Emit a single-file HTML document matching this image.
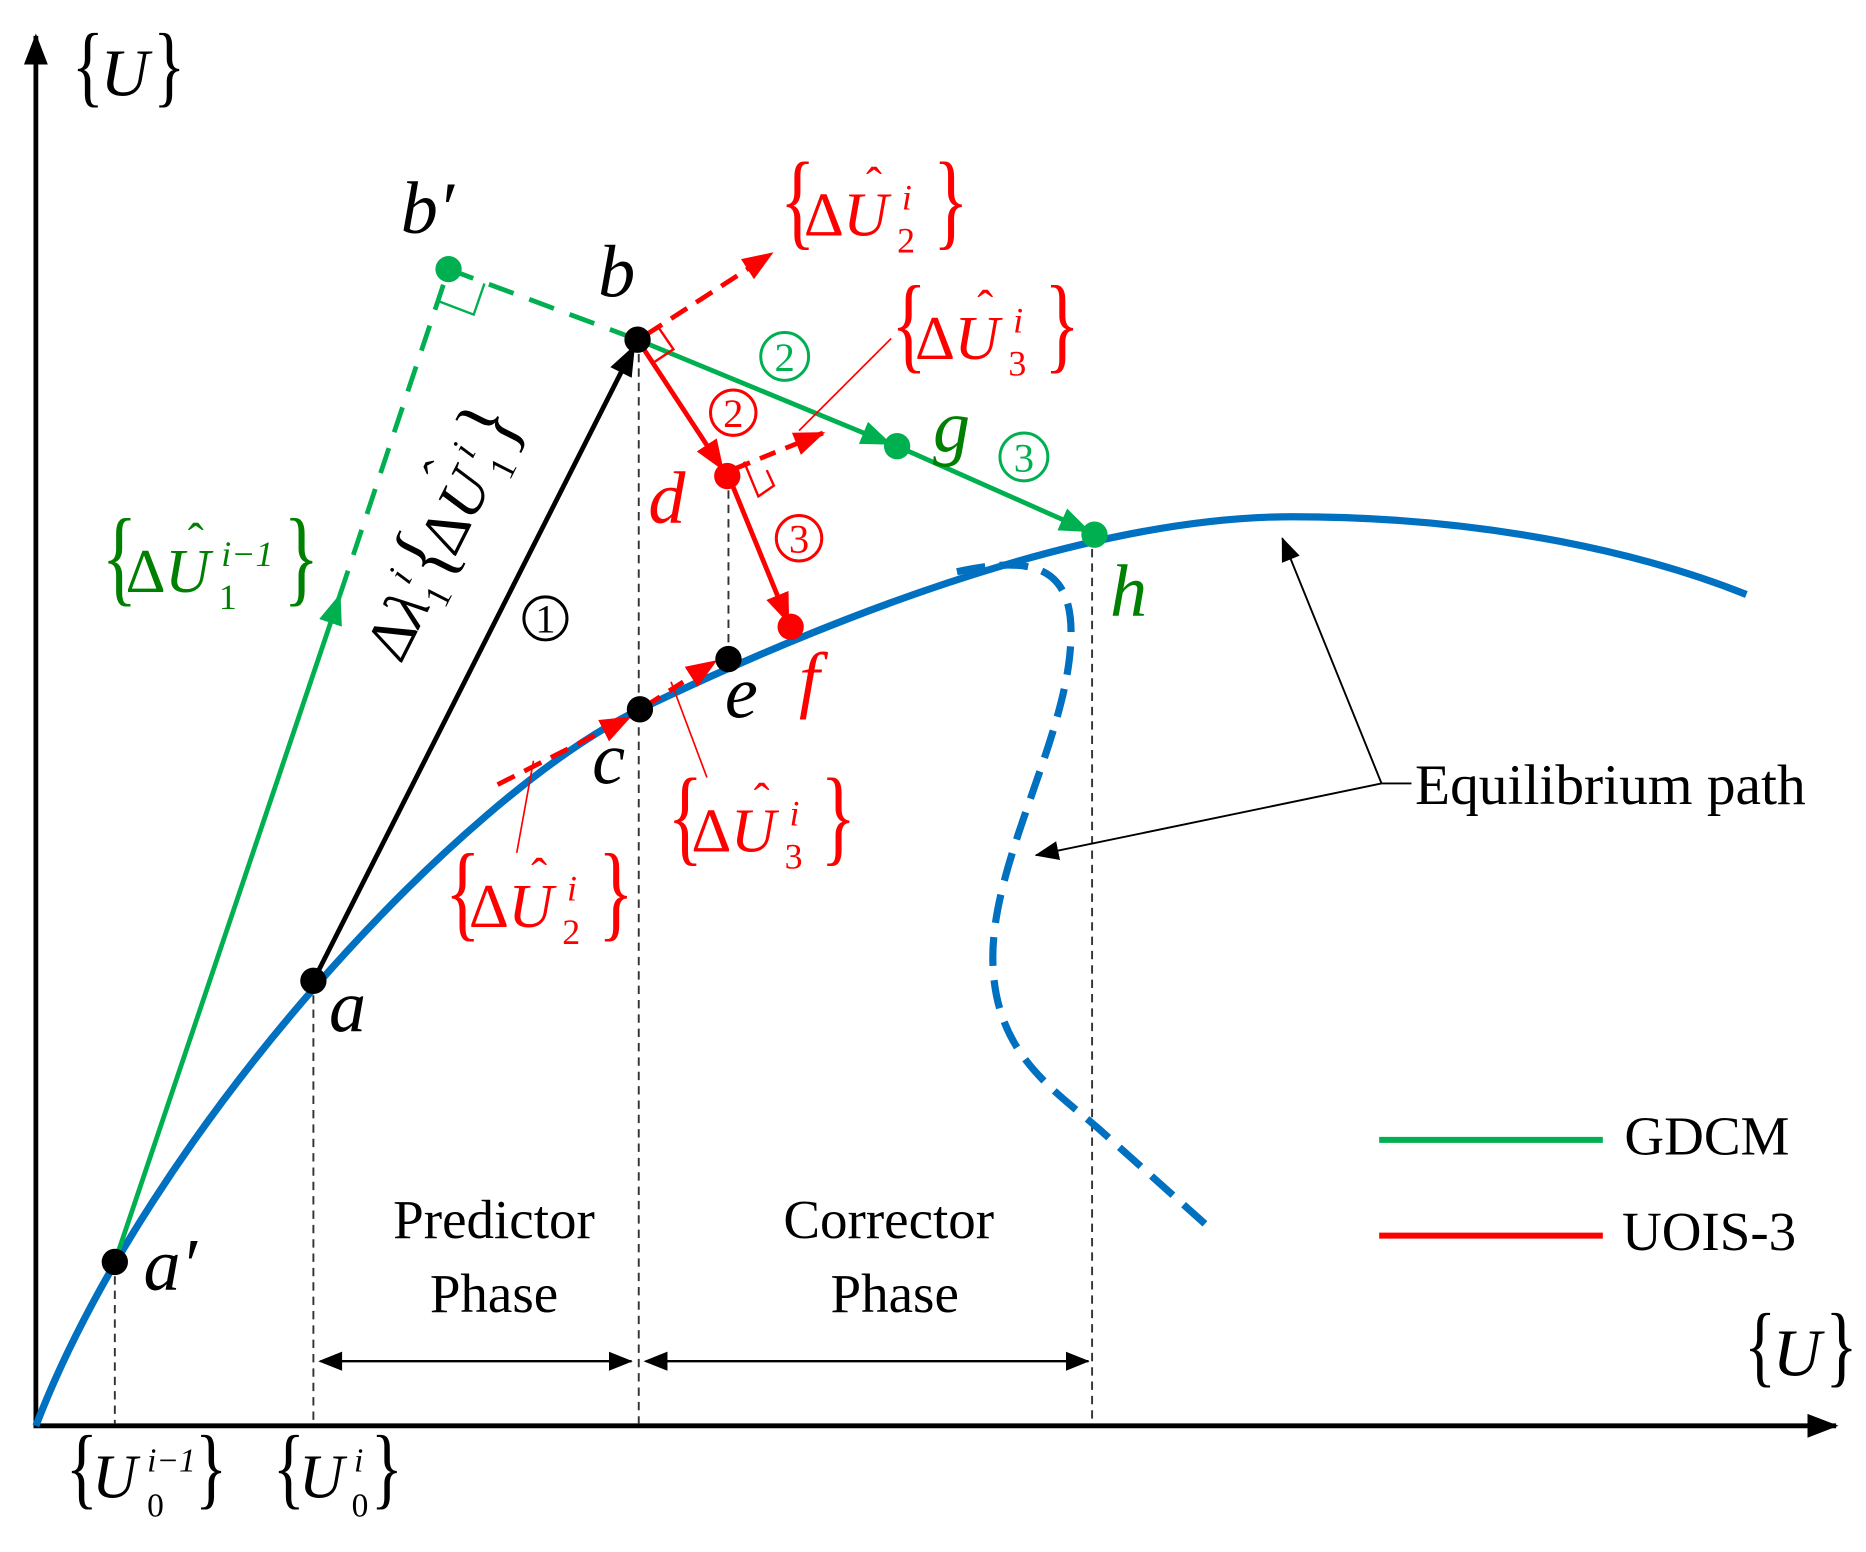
<!DOCTYPE html>
<html><head><meta charset="utf-8"><style>
html,body{margin:0;padding:0;background:#fff;}
svg{display:block;}
svg text{font-family:"Liberation Serif","Times New Roman",serif;}
.it{font-style:italic;}
</style></head><body>
<svg width="1866" height="1552" viewBox="0 0 1560 1297.5" preserveAspectRatio="none" xmlns="http://www.w3.org/2000/svg" font-family="'Liberation Serif', serif">
<defs>
<marker id="ak" markerUnits="userSpaceOnUse" markerWidth="26" markerHeight="20" refX="24" refY="10" orient="auto"><path d="M0,0 L26,10 L0,20 Z" fill="#000"/></marker>
<marker id="ak2" markerUnits="userSpaceOnUse" markerWidth="20" markerHeight="16" refX="19" refY="8" orient="auto"><path d="M0,0 L20,8 L0,16 Z" fill="#000"/></marker>
<marker id="ag" markerUnits="userSpaceOnUse" markerWidth="26" markerHeight="20" refX="24" refY="10" orient="auto"><path d="M0,0 L26,10 L0,20 Z" fill="#00b050"/></marker>
<marker id="ar" markerUnits="userSpaceOnUse" markerWidth="26" markerHeight="20" refX="24" refY="10" orient="auto"><path d="M0,0 L26,10 L0,20 Z" fill="#ff0000"/></marker>
</defs>

<!-- axes -->
<line x1="30" y1="1193" x2="30" y2="30" stroke="#000" stroke-width="4" marker-end="url(#ak)"/>
<line x1="28" y1="1192" x2="1535" y2="1192" stroke="#000" stroke-width="4" marker-end="url(#ak)"/>

<!-- vertical dashed thin -->
<g stroke="#333" stroke-width="1.6" stroke-dasharray="7 5">
<line x1="96" y1="1055" x2="96" y2="1190"/>
<line x1="262" y1="820" x2="262" y2="1190"/>
<line x1="534" y1="284" x2="534" y2="1190"/>
<line x1="609" y1="398" x2="609" y2="551"/>
<line x1="913" y1="447" x2="913" y2="1190"/>
</g>

<!-- phase arrows -->
<line x1="268" y1="1138" x2="528" y2="1138" stroke="#000" stroke-width="2" marker-end="url(#ak2)"/>
<line x1="540" y1="1138" x2="910" y2="1138" stroke="#000" stroke-width="2" marker-end="url(#ak2)"/>
<polygon points="266,1138 286,1130 286,1146" fill="#000"/>
<polygon points="538,1138 558,1130 558,1146" fill="#000"/>

<!-- blue curves -->
<path d="M30,1192 C125,945 385,665 535,593 C677,525 900,432 1080,432 C1250,432 1380,465 1460,497" fill="none" stroke="#0070c0" stroke-width="6"/>
<path d="M800,478 C860,465 900,470 895,540 C890,620 830,720 830,800 C830,880 880,910 920,945 L1015,1030" fill="none" stroke="#0070c0" stroke-width="6" stroke-dasharray="24 12"/>

<!-- equilibrium leaders -->
<line x1="1155" y1="655" x2="1180" y2="655" stroke="#000" stroke-width="1.6"/>
<line x1="1155" y1="655" x2="1072" y2="450" stroke="#000" stroke-width="1.6" marker-end="url(#ak2)"/>
<line x1="1155" y1="655" x2="866" y2="715" stroke="#000" stroke-width="1.6" marker-end="url(#ak2)"/>

<!-- green -->
<line x1="96" y1="1055" x2="284" y2="498" stroke="#00b050" stroke-width="4" marker-end="url(#ag)"/>
<line x1="284" y1="498" x2="375" y2="225" stroke="#00b050" stroke-width="4" stroke-dasharray="22 14"/>
<line x1="375" y1="225" x2="533" y2="284" stroke="#00b050" stroke-width="4" stroke-dasharray="22 14"/>
<polyline points="367,252 396,263 405,237" fill="none" stroke="#00b050" stroke-width="2"/>
<line x1="533" y1="284" x2="744" y2="371" stroke="#00b050" stroke-width="4" marker-end="url(#ag)"/>
<line x1="750" y1="373" x2="910" y2="444" stroke="#00b050" stroke-width="4" marker-end="url(#ag)"/>

<!-- black main arrow -->
<line x1="262" y1="820" x2="530" y2="290" stroke="#000" stroke-width="4" marker-end="url(#ak)"/>

<!-- red -->
<line x1="540" y1="280" x2="645" y2="212" stroke="#ff0000" stroke-width="4" stroke-dasharray="16 9" marker-end="url(#ar)"/>
<polyline points="550,273 563,292 545,304" fill="none" stroke="#ff0000" stroke-width="2"/>
<line x1="537" y1="290" x2="604" y2="392" stroke="#ff0000" stroke-width="4" marker-end="url(#ar)"/>
<line x1="614" y1="392" x2="688" y2="362" stroke="#ff0000" stroke-width="4" stroke-dasharray="14 9" marker-end="url(#ar)"/>
<polyline points="622,386 634,415 647,406 641,393" fill="none" stroke="#ff0000" stroke-width="2"/>
<line x1="610" y1="400" x2="659" y2="520" stroke="#ff0000" stroke-width="4" marker-end="url(#ar)"/>
<line x1="416" y1="656" x2="526" y2="600" stroke="#ff0000" stroke-width="4" stroke-dasharray="16 9" marker-end="url(#ar)"/>
<line x1="540" y1="590" x2="598" y2="553" stroke="#ff0000" stroke-width="4" stroke-dasharray="14 9" marker-end="url(#ar)"/>
<g stroke="#ff0000" stroke-width="1.4">
<line x1="432" y1="713" x2="446" y2="636"/>
<line x1="591" y1="650" x2="561" y2="570"/>
<line x1="745" y1="283" x2="668" y2="360"/>
</g>

<!-- points -->
<g fill="#000">
<circle cx="96" cy="1055" r="11"/><circle cx="262" cy="820" r="11"/>
<circle cx="533" cy="284" r="11"/><circle cx="535" cy="593" r="11"/><circle cx="609" cy="551" r="11"/>
</g>
<g fill="#ff0000"><circle cx="608" cy="398" r="11"/><circle cx="661" cy="524" r="11"/></g>
<g fill="#00b050"><circle cx="375" cy="225" r="11"/><circle cx="750" cy="373" r="11"/><circle cx="915" cy="447" r="11"/></g>

<!-- circled numbers -->
<g fill="none" stroke-width="2.5">
<circle cx="456" cy="517" r="18" stroke="#000"/>
<circle cx="656" cy="298" r="20" stroke="#00b050"/>
<circle cx="613" cy="345" r="19" stroke="#ff0000"/>
<circle cx="856" cy="382" r="20" stroke="#00b050"/>
<circle cx="668" cy="450" r="19" stroke="#ff0000"/>
</g>
<g font-size="34" text-anchor="middle">
<text x="456" y="529" fill="#000">1</text>
<text x="656" y="310" fill="#00b050">2</text>
<text x="613" y="357" fill="#ff0000">2</text>
<text x="856" y="394" fill="#00b050">3</text>
<text x="668" y="462" fill="#ff0000">3</text>
</g>

<!-- point letters -->
<g font-size="62">
<text x="335" y="195" class="it">b′</text>
<text x="500" y="248" class="it">b</text>
<text x="275" y="862" class="it">a</text>
<text x="120" y="1078" class="it">a′</text>
<text x="495" y="655" class="it">c</text>
<text x="606" y="600" class="it">e</text>
<text x="542" y="437" class="it" fill="#ff0000">d</text>
<text x="668" y="588" class="it" fill="#ff0000">f</text>
<text x="780" y="377" class="it" fill="#008000">g</text>
<text x="928" y="515" class="it" fill="#008000">h</text>
</g>

<!-- labels with braces -->
<g fill="#ff0000" transform="translate(652,197)">
<text x="0" y="0" font-size="62" transform="scale(1,1.45)">{</text>
<text x="20" y="0" font-size="52">Δ</text><text x="53" y="0" font-size="52" class="it">U</text>
<text x="72" y="-30" font-size="40">ˆ</text>
<text x="102" y="-22" font-size="30" class="it">i</text><text x="98" y="14" font-size="30">2</text>
<text x="128" y="0" font-size="62" transform="scale(1,1.45)">}</text>
</g>
<g fill="#ff0000" transform="translate(745,300)">
<text x="0" y="0" font-size="62" transform="scale(1,1.45)">{</text>
<text x="20" y="0" font-size="52">Δ</text><text x="53" y="0" font-size="52" class="it">U</text>
<text x="72" y="-30" font-size="40">ˆ</text>
<text x="102" y="-22" font-size="30" class="it">i</text><text x="98" y="14" font-size="30">3</text>
<text x="128" y="0" font-size="62" transform="scale(1,1.45)">}</text>
</g>
<g fill="#ff0000" transform="translate(558,712)">
<text x="0" y="0" font-size="62" transform="scale(1,1.45)">{</text>
<text x="20" y="0" font-size="52">Δ</text><text x="53" y="0" font-size="52" class="it">U</text>
<text x="72" y="-30" font-size="40">ˆ</text>
<text x="102" y="-22" font-size="30" class="it">i</text><text x="98" y="14" font-size="30">3</text>
<text x="128" y="0" font-size="62" transform="scale(1,1.45)">}</text>
</g>
<g fill="#ff0000" transform="translate(372,775)">
<text x="0" y="0" font-size="62" transform="scale(1,1.45)">{</text>
<text x="20" y="0" font-size="52">Δ</text><text x="53" y="0" font-size="52" class="it">U</text>
<text x="72" y="-30" font-size="40">ˆ</text>
<text x="102" y="-22" font-size="30" class="it">i</text><text x="98" y="14" font-size="30">2</text>
<text x="128" y="0" font-size="62" transform="scale(1,1.45)">}</text>
</g>
<g fill="#008000" transform="translate(85,495)">
<text x="0" y="0" font-size="62" transform="scale(1,1.45)">{</text>
<text x="20" y="0" font-size="52">Δ</text><text x="53" y="0" font-size="52" class="it">U</text>
<text x="72" y="-30" font-size="40">ˆ</text>
<text x="100" y="-22" font-size="30" class="it">i−1</text><text x="98" y="14" font-size="30">1</text>
<text x="152" y="0" font-size="62" transform="scale(1,1.45)">}</text>
</g>
<!-- rotated label -->
<g transform="translate(335,556) rotate(-63.2)">
<text x="0" y="0" font-size="52">Δ<tspan class="it">λ</tspan></text>
<text x="62" y="-24" font-size="30" class="it">i</text><text x="58" y="12" font-size="30">1</text>
<text x="76" y="0" font-size="62" transform="scale(1,1.2)">{</text>
<text x="100" y="0" font-size="52">Δ</text><text x="133" y="0" font-size="52" class="it">U</text>
<text x="152" y="-30" font-size="40">ˆ</text>
<text x="180" y="-24" font-size="30" class="it">i</text><text x="178" y="12" font-size="30">1</text>
<text x="198" y="0" font-size="62" transform="scale(1,1.2)">}</text>
</g>

<!-- axis labels -->
<g transform="translate(60,80)">
<text x="0" y="0" font-size="56" transform="scale(1,1.35)">{</text>
<text x="24" y="0" font-size="56" class="it">U</text>
<text x="68" y="0" font-size="56" transform="scale(1,1.35)">}</text>
</g>
<g transform="translate(1458,1150)">
<text x="0" y="0" font-size="56" transform="scale(1,1.35)">{</text>
<text x="24" y="0" font-size="56" class="it">U</text>
<text x="68" y="0" font-size="56" transform="scale(1,1.35)">}</text>
</g>
<g transform="translate(55,1252)">
<text x="0" y="0" font-size="56" transform="scale(1,1.35)">{</text>
<text x="22" y="0" font-size="52" class="it">U</text>
<text x="68" y="-22" font-size="28" class="it">i−1</text><text x="68" y="16" font-size="28">0</text>
<text x="108" y="0" font-size="56" transform="scale(1,1.35)">}</text>
</g>
<g transform="translate(228,1252)">
<text x="0" y="0" font-size="56" transform="scale(1,1.35)">{</text>
<text x="22" y="0" font-size="52" class="it">U</text>
<text x="68" y="-22" font-size="28" class="it">i</text><text x="66" y="16" font-size="28">0</text>
<text x="82" y="0" font-size="56" transform="scale(1,1.35)">}</text>
</g>

<!-- text -->
<text x="1183" y="672" font-size="48">Equilibrium path</text>
<g font-size="46" text-anchor="middle">
<text x="413" y="1035">Predictor</text><text x="413" y="1097">Phase</text>
<text x="743" y="1035">Corrector</text><text x="748" y="1097">Phase</text>
</g>
<line x1="1153" y1="953" x2="1340" y2="953" stroke="#00b050" stroke-width="5"/>
<line x1="1153" y1="1033" x2="1340" y2="1033" stroke="#ff0000" stroke-width="5"/>
<text x="1358" y="965" font-size="46">GDCM</text>
<text x="1356" y="1045" font-size="46">UOIS-3</text>
</svg>
</body></html>
